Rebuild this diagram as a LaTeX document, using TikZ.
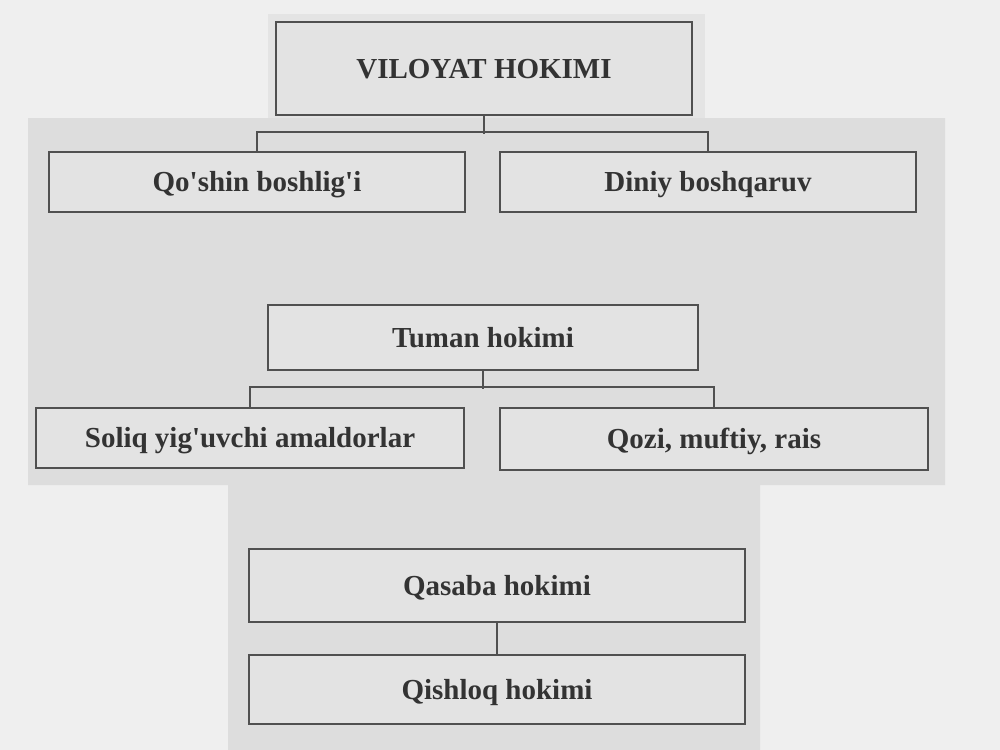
\documentclass[tikz,border=0pt]{standalone}
\usepackage{fontspec}
\setmainfont{Liberation Serif}
\usepackage{tikz}
\usepackage{xcolor}
\definecolor{paper}{HTML}{EFEFEF}
\definecolor{panel}{HTML}{DDDDDD}
\definecolor{boxfill}{HTML}{E3E3E3}
\definecolor{ink}{HTML}{505050}
\definecolor{txt}{HTML}{333333}

\begin{document}
\begin{tikzpicture}[x=0.02cm,y=-0.02cm,
        rank/.style={draw=ink,line width=1.1pt,fill=boxfill,text=txt,
            font=\fontsize{16.5}{18}\selectfont\bfseries,inner sep=0pt,
            text height=11pt,text depth=0pt},
        link/.style={draw=ink,line width=1.1pt}]
        \useasboundingbox (0,0) rectangle (1000,750);
        \fill[paper] (0,0) rectangle (1000,750);
        \fill[panel!60!paper] (268,14) rectangle (705,118);
        \fill[panel] (28,118) -- (945,118) -- (945,485) -- (760,485) -- (760,750)
            -- (228,750) -- (228,485) -- (28,485) -- cycle;
        \node[rank,minimum width=8.32cm,minimum height=1.86cm] (viloyat) at (484,68.5) {VILOYAT HOKIMI};
        \node[rank,minimum width=8.32cm,minimum height=1.2cm] (qoshin) at (257,182) {Qo\textquotesingle shin boshlig\textquotesingle i};
        \node[rank,minimum width=8.32cm,minimum height=1.2cm] (diniy) at (708,182) {Diniy boshqaruv};
        \node[rank,minimum width=8.6cm,minimum height=1.3cm] (tuman) at (483,337.5) {Tuman hokimi};
        \node[rank,minimum width=8.56cm,minimum height=1.2cm] (soliq) at (250,438) {Soliq yig\textquotesingle uvchi amaldorlar};
        \node[rank,minimum width=8.56cm,minimum height=1.24cm] (qozi) at (714,439) {Qozi, muftiy, rais};
        \node[rank,minimum width=9.92cm,minimum height=1.46cm] (qasaba) at (497,585.5) {Qasaba hokimi};
        \node[rank,minimum width=9.92cm,minimum height=1.38cm] (qishloq) at (497,689.5) {Qishloq hokimi};
        \draw[link] (viloyat.south) -- ++(0,18);
        \draw[link] (qoshin.north) -- ++(0,-19) -| (diniy.north);
        \draw[link] (tuman.south) -- ++(0,18);
        \draw[link] (soliq.north) -- ++(0,-20) -| (qozi.north);
        \draw[link] (qasaba.south) -- (qishloq.north);
    \end{tikzpicture}
\end{document}
